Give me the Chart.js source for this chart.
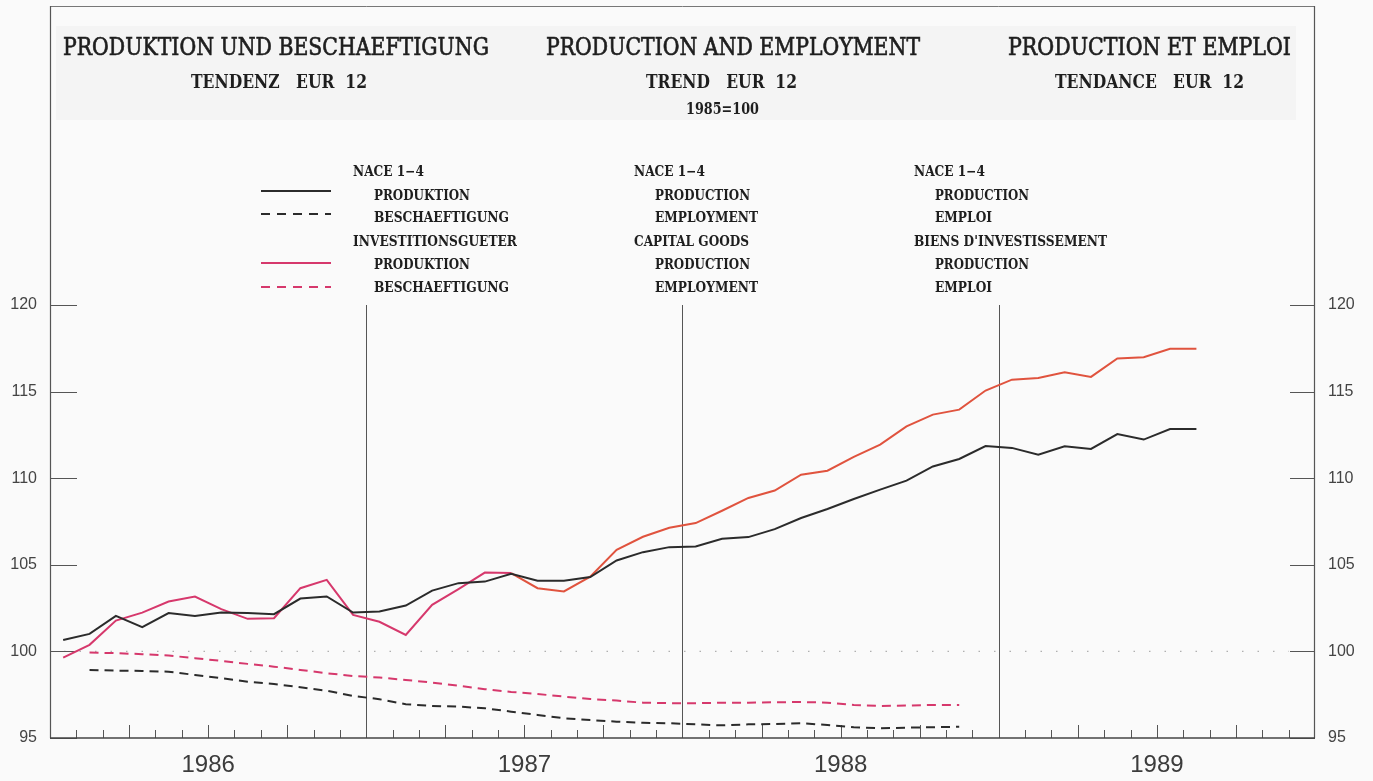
<!DOCTYPE html>
<html>
<head>
<meta charset="utf-8">
<script src="https://cdn.jsdelivr.net/npm/chart.js@4.4.1/dist/chart.umd.min.js"></script>
<style>
html,body{margin:0;padding:0;background:#fafafa;}
canvas{display:block;}
</style>
</head>
<body>
<canvas id="c" width="1373" height="781"></canvas>
<script>
// ---------- DATA ----------
const years = ['1986', '1987', '1988', '1989'];
const monthCodes = ['01','02','03','04','05','06','07','08','09','10','11','12'];
const months = years.flatMap(y => monthCodes.map(m => y + '-' + m));
const yTicks = [95, 100, 105, 110, 115, 120];

// NACE 1-4, production (trend, 1985=100), Jan 1986 - Aug 1989
const naceProduction = [
  100.66, 101.01, 102.05, 101.40, 102.21, 102.05, 102.24, 102.21, 102.15, 103.05, 103.17, 102.24,
  102.30, 102.65, 103.51, 103.94, 104.03, 104.48, 104.08, 104.08, 104.29, 105.25, 105.73, 106.02,
  106.06, 106.50, 106.60, 107.06, 107.70, 108.22, 108.80, 109.34, 109.86, 110.68, 111.11, 111.86,
  111.75, 111.36, 111.84, 111.69, 112.55, 112.23, 112.84, 112.84
];
// NACE 1-4, employment, Feb 1986 - Nov 1988
const naceEmployment = [
  null, 98.93, 98.89, 98.87, 98.83, 98.64, 98.45, 98.25, 98.12, 97.93, 97.73, 97.43,
  97.24, 96.95, 96.85, 96.81, 96.72, 96.52, 96.33, 96.14, 96.04, 95.94, 95.88, 95.85,
  95.79, 95.73, 95.79, 95.81, 95.85, 95.75, 95.62, 95.56, 95.60, 95.62, 95.65
];
// Capital goods, production
const capitalProduction = [
  99.64, 100.38, 101.78, 102.24, 102.88, 103.17, 102.44, 101.88, 101.92, 103.65, 104.13, 102.11,
  101.71, 100.95, 102.69, 103.60, 104.55, 104.52, 103.65, 103.46, 104.32, 105.87, 106.62, 107.14,
  107.41, 108.12, 108.86, 109.29, 110.20, 110.43, 111.23, 111.94, 112.99, 113.67, 113.96, 115.06,
  115.69, 115.79, 116.12, 115.85, 116.91, 116.98, 117.47, 117.47
];
// Capital goods, employment
const capitalEmployment = [
  null, 99.93, 99.90, 99.84, 99.76, 99.61, 99.45, 99.28, 99.12, 98.93, 98.74, 98.58,
  98.49, 98.35, 98.20, 98.02, 97.82, 97.66, 97.54, 97.39, 97.25, 97.16, 97.04, 97.01,
  97.01, 97.04, 97.04, 97.06, 97.08, 97.04, 96.91, 96.85, 96.87, 96.91, 96.91
];

// ---------- TEXTS ----------
const titles = ['PRODUKTION UND BESCHAEFTIGUNG', 'PRODUCTION AND EMPLOYMENT', 'PRODUCTION ET EMPLOI'];
const subtitles = ['TENDENZ   EUR  12', 'TREND   EUR  12', 'TENDANCE   EUR  12'];
const baseNote = '1985=100';
const legendDE = ['NACE 1\u22124', 'PRODUKTION', 'BESCHAEFTIGUNG', 'INVESTITIONSGUETER', 'PRODUKTION', 'BESCHAEFTIGUNG'];
const legendEN = ['NACE 1\u22124', 'PRODUCTION', 'EMPLOYMENT', 'CAPITAL GOODS', 'PRODUCTION', 'EMPLOYMENT'];
const legendFR = ['NACE 1\u22124', 'PRODUCTION', 'EMPLOI', "BIENS D'INVESTISSEMENT", 'PRODUCTION', 'EMPLOI'];

// ---------- STYLE / LAYOUT ----------
const C_BLACK = '#2b2b2b';
const C_PINK = '#d6386c';
const C_ORANGE = '#e0533e';
const SERIF = '"DejaVu Serif", "Liberation Serif", serif';
const SANS = '"Liberation Sans", Arial, sans-serif';

function fitText(ctx, str, x, y, w, font, color, stroke) {
  ctx.save();
  ctx.font = font;
  ctx.fillStyle = color;
  ctx.textBaseline = 'middle';
  ctx.textAlign = 'left';
  const nat = ctx.measureText(str).width;
  ctx.translate(x, y);
  ctx.scale(w / nat, 1);
  ctx.fillText(str, 0, 0);
  if (stroke) {
    ctx.strokeStyle = color;
    ctx.lineWidth = stroke;
    ctx.strokeText(str, 0, 0);
  }
  ctx.restore();
}
function line(ctx, x1, y1, x2, y2, color, width, dash) {
  ctx.save();
  ctx.beginPath();
  ctx.strokeStyle = color;
  ctx.lineWidth = width;
  ctx.setLineDash(dash || []);
  ctx.moveTo(x1, y1);
  ctx.lineTo(x2, y2);
  ctx.stroke();
  ctx.restore();
}

const decor = {
  id: 'decor',
  beforeDraw(chart) {
    const ctx = chart.ctx;
    ctx.save();
    ctx.fillStyle = '#fafafa';
    ctx.fillRect(0, 0, chart.width, chart.height);
    ctx.fillStyle = '#f4f4f4';
    ctx.fillRect(56, 26, 1240, 94);
    ctx.restore();
  },
  beforeDatasetsDraw(chart) {
    const {ctx, chartArea: a, scales: {x, y}} = chart;
    const slot = x.getPixelForValue(1) - x.getPixelForValue(0);
    const boundary = k => x.getPixelForValue(k) - slot / 2;
    // dotted reference line at 100
    const y100 = y.getPixelForValue(100);
    line(ctx, a.left + 14, y100, a.right - 26, y100, '#b0b0b0', 1.2, [1.5, 14]);
    // year separators
    for (let k = 1; k < years.length; k++) {
      const px = Math.round(boundary(12 * k)) + 0.5;
      line(ctx, px, a.top, px, a.bottom, '#555', 1);
    }
    // inward y ticks
    yTicks.forEach(v => {
      const py = Math.round(y.getPixelForValue(v)) + 0.5;
      line(ctx, a.left, py, a.left + 27, py, '#555', 1);
      line(ctx, a.right - 25, py, a.right, py, '#555', 1);
    });
    // month ticks
    for (let k = 1; k < months.length; k++) {
      if (k % 12 === 0) continue;
      const px = Math.round(boundary(k)) + 0.5;
      const len = (k % 3 === 0) ? 13 : 8;
      line(ctx, px, a.bottom, px, a.bottom - len, '#555', 1);
    }
    // frame
    line(ctx, a.left, 6.5, a.right, 6.5, '#777', 1);
    line(ctx, a.left + 0.5, 6, a.left + 0.5, a.bottom, '#555', 1.2);
    line(ctx, a.right - 0.5, 6, a.right - 0.5, a.bottom, '#555', 1.2);
    line(ctx, a.left, a.bottom, a.right, a.bottom, '#444', 1.5);
  },
  afterDraw(chart) {
    const {ctx, scales: {x}} = chart;
    // year labels
    ctx.save();
    ctx.font = '24px ' + SANS;
    ctx.fillStyle = '#3c3c3c';
    ctx.textAlign = 'center';
    ctx.textBaseline = 'middle';
    years.forEach((yr, i) => {
      const cx = (x.getPixelForValue(12 * i) + x.getPixelForValue(12 * i + 11)) / 2;
      ctx.fillText(yr, cx, 765);
    });
    ctx.restore();

    // titles
    const tFont = '25px ' + SERIF;
    const tCol = '#1e1e1e';
    fitText(ctx, titles[0], 63, 48, 426, tFont, tCol, 0.7);
    fitText(ctx, titles[1], 546, 48, 374, tFont, tCol, 0.7);
    fitText(ctx, titles[2], 1008, 48, 283, tFont, tCol, 0.7);
    const sFont = 'bold 19px ' + SERIF;
    fitText(ctx, subtitles[0], 191, 83, 176, sFont, tCol);
    fitText(ctx, subtitles[1], 646, 83, 151, sFont, tCol);
    fitText(ctx, subtitles[2], 1055, 83, 189, sFont, tCol);
    fitText(ctx, baseNote, 686, 110, 73, 'bold 16px ' + SERIF, tCol);

    // legend
    const lFont = 'bold 14px ' + SERIF;
    const rowsY = [172, 196, 218, 242, 265, 288];
    const indent = [0, 21, 21, 0, 21, 21];
    const cols = [
      {x: 353, texts: legendDE, w: [71, 96, 135, 164, 96, 135]},
      {x: 634, texts: legendEN, w: [71, 95, 103, 115, 95, 103]},
      {x: 914, texts: legendFR, w: [71, 94, 57, 193, 94, 57]}
    ];
    cols.forEach(c => c.texts.forEach((t, i) => {
      fitText(ctx, t, c.x + indent[i], rowsY[i], c.w[i], lFont, '#1e1e1e');
    }));
    line(ctx, 261, 191, 331, 191, C_BLACK, 2);
    line(ctx, 261, 214, 331, 214, C_BLACK, 2, [9, 7]);
    line(ctx, 261, 263, 331, 263, C_PINK, 2);
    line(ctx, 261, 287, 331, 287, C_PINK, 2, [9, 7]);
  }
};

const yAxisCommon = {
  min: 95,
  max: 120,
  grid: {display: false, drawTicks: false},
  border: {display: false},
  ticks: {
    stepSize: 5,
    padding: 13,
    color: '#444',
    font: {family: 'Liberation Sans', size: 16}
  }
};

new Chart(document.getElementById('c'), {
  type: 'line',
  data: {
    labels: months,
    datasets: [
      {label: 'NACE 1-4 Produktion', data: naceProduction, borderColor: C_BLACK, borderWidth: 2},
      {label: 'NACE 1-4 Beschaeftigung', data: naceEmployment, borderColor: C_BLACK, borderWidth: 2, borderDash: [9, 6]},
      {label: 'Investitionsgueter Produktion', data: capitalProduction, borderColor: C_PINK, borderWidth: 2,
        segment: {borderColor: ctx => ctx.p0DataIndex >= 17 ? C_ORANGE : undefined}},
      {label: 'Investitionsgueter Beschaeftigung', data: capitalEmployment, borderColor: C_PINK, borderWidth: 2, borderDash: [9, 6]}
    ]
  },
  options: {
    responsive: false,
    animation: false,
    devicePixelRatio: 1,
    layout: {padding: {top: 305, left: 0, right: 0, bottom: 0}},
    elements: {point: {radius: 0}, line: {tension: 0, borderCapStyle: 'butt'}},
    plugins: {legend: {display: false}, tooltip: {enabled: false}, title: {display: false}},
    scales: {
      x: {
        type: 'category',
        offset: true,
        grid: {display: false, drawTicks: false},
        border: {display: false},
        ticks: {display: false},
        afterFit: s => { s.height = 43; }
      },
      y: Object.assign({}, yAxisCommon, {position: 'left', afterFit: s => { s.width = 50; }}),
      y2: Object.assign({}, yAxisCommon, {position: 'right', afterFit: s => { s.width = 58; }})
    }
  },
  plugins: [decor]
});
</script>
</body>
</html>
